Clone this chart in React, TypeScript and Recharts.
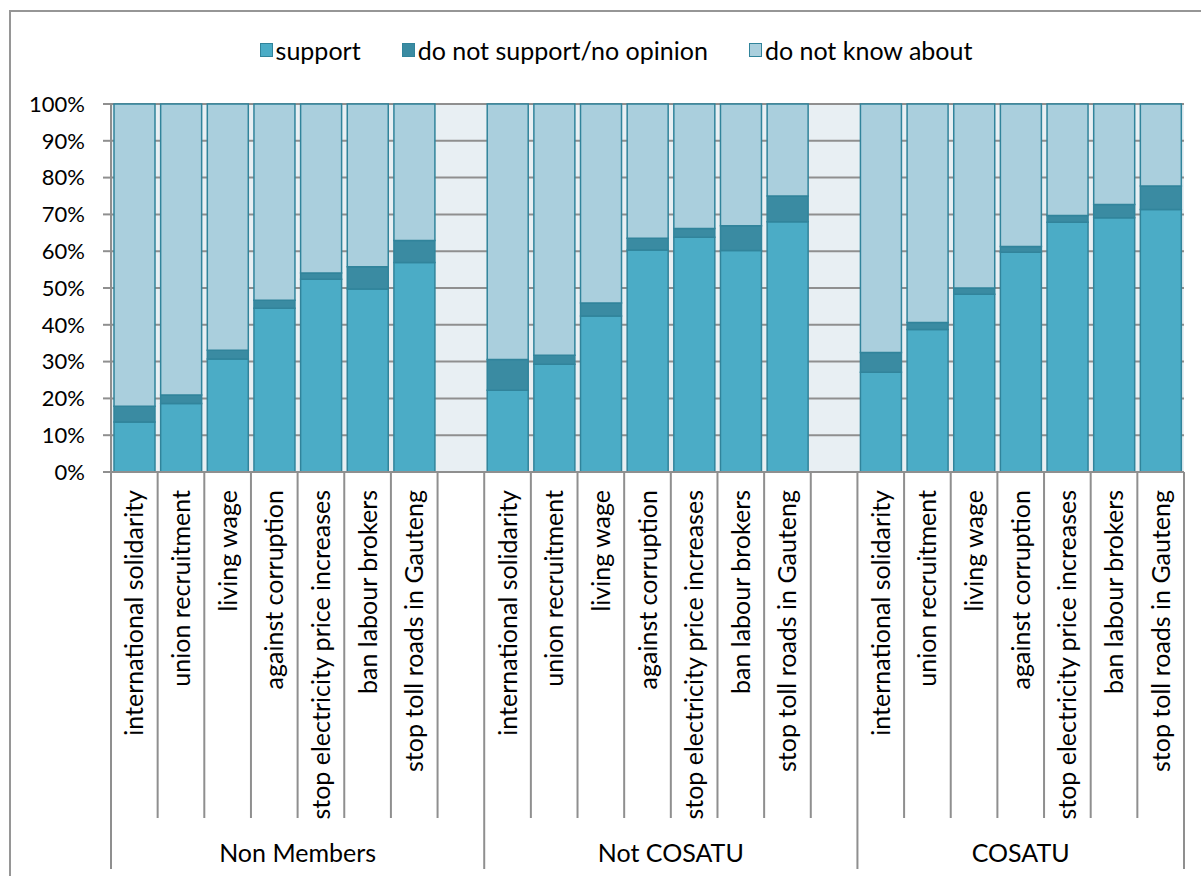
import { BarChart, Bar, XAxis, YAxis, CartesianGrid, Legend } from "recharts";

// survey topics, repeated for each respondent group
const topics = [
    "international solidarity",
    "union recruitment",
    "living wage",
    "against corruption",
    "stop electricity price increases",
    "ban labour brokers",
    "stop toll roads in Gauteng",
];

const groups = ["Non Members", "Not COSATU", "COSATU"];

// percentages per topic, same order as `topics`
const supportNonMembers = [13.6, 18.6, 30.7, 44.5, 52.4, 49.7, 56.9];
const supportNotCosatu = [22.2, 29.3, 42.4, 60.3, 63.8, 60.2, 68.0];
const supportCosatu = [27.1, 38.7, 48.3, 59.7, 67.9, 69.1, 71.3];

const noSupportNonMembers = [4.3, 2.3, 2.4, 2.2, 1.7, 6.1, 6.0];
const noSupportNotCosatu = [8.4, 2.4, 3.5, 3.2, 2.4, 6.7, 7.0];
const noSupportCosatu = [5.4, 1.9, 1.7, 1.6, 1.8, 3.6, 6.4];

const unawareNonMembers = [82.1, 79.1, 66.9, 53.3, 45.9, 44.2, 37.1];
const unawareNotCosatu = [69.4, 68.3, 54.1, 36.5, 33.8, 33.1, 25.0];
const unawareCosatu = [67.5, 59.4, 50.0, 38.7, 30.3, 27.3, 22.3];

const yTicks = [0, 10, 20, 30, 40, 50, 60, 70, 80, 90, 100];

const supportByGroup = [supportNonMembers, supportNotCosatu, supportCosatu];
const noSupportByGroup = [noSupportNonMembers, noSupportNotCosatu, noSupportCosatu];
const unawareByGroup = [unawareNonMembers, unawareNotCosatu, unawareCosatu];

type Row = {
    name: string;
    group: number;
    support?: number;
    noSupport?: number;
    unaware?: number;
};

// one row per topic, plus an empty slot between groups
const rows: Row[] = [];
groups.forEach((_, gi) => {
    topics.forEach((t, ti) => {
        rows.push({
            name: t,
            group: gi,
            support: supportByGroup[gi][ti],
            noSupport: noSupportByGroup[gi][ti],
            unaware: unawareByGroup[gi][ti],
        });
    });
    if (gi < groups.length - 1) rows.push({ name: "", group: gi });
});

const series = [
    { key: "support", label: "support", fill: "#4bacc6" },
    { key: "noSupport", label: "do not support/no opinion", fill: "#3a8ba2" },
    { key: "unaware", label: "do not know about", fill: "#aacfdd" },
];

const FONT = "Lato, 'Liberation Sans', sans-serif";
const FONT_SIZE = 25;
const Y_FONT_SIZE = 22;
const GRID = "#8f8f8f";
const BAR_STROKE = "#31849b";

const W = 1210;
const H = 880;
const MARGIN = { top: 92, right: 37, bottom: 0, left: 0 };
const Y_AXIS_W = 100;
const X_AXIS_H = H - MARGIN.top - MARGIN.bottom - 368;
const PLOT_W = W - MARGIN.left - MARGIN.right - Y_AXIS_W;
const STEP = PLOT_W / rows.length;

const groupSize = (g: number) => rows.filter((r) => r.group === g).length;
const isGroupStart = (i: number) => i === 0 || rows[i].group !== rows[i - 1].group;

const CategoryTick = (props: any) => {
    const { x, y, index } = props;
    const row = rows[index];
    const left = x - STEP / 2;
    const shortEnd = y + 346;
    const longEnd = y + 397;
    const labelTop = y + 18;
    const last = index === rows.length - 1;
    return (
        <g>
            <line
                x1={left}
                x2={left}
                y1={y}
                y2={isGroupStart(index) ? longEnd : shortEnd}
                stroke={GRID}
                strokeWidth={2}
            />
            {last && (
                <line x1={x + STEP / 2} x2={x + STEP / 2} y1={y} y2={longEnd} stroke={GRID} strokeWidth={2} />
            )}
            {row.name && (
                <text
                    x={x}
                    y={labelTop}
                    dy="0.36em"
                    textAnchor="end"
                    transform={`rotate(-90 ${x} ${labelTop})`}
                    fontFamily={FONT}
                    fontSize={FONT_SIZE}
                    fill="#000"
                >
                    {row.name}
                </text>
            )}
            {isGroupStart(index) && (
                <text
                    x={left + (groupSize(row.group) * STEP) / 2}
                    y={y + 381}
                    dy="0.36em"
                    textAnchor="middle"
                    fontFamily={FONT}
                    fontSize={FONT_SIZE}
                    fill="#000"
                >
                    {groups[row.group]}
                </text>
            )}
        </g>
    );
};

const LegendBox = () => (
    <div
        style={{
            display: "flex",
            justifyContent: "center",
            gap: 41,
            fontFamily: FONT,
            fontSize: FONT_SIZE,
            lineHeight: "26px",
            color: "#000",
        }}
    >
        {series.map((s) => (
            <div key={s.key} style={{ display: "flex", alignItems: "center", gap: 3 }}>
                <span
                    style={{
                        display: "inline-block",
                        width: 11,
                        height: 12,
                        background: s.fill,
                        border: `1px solid ${BAR_STROKE}`,
                    }}
                />
                <span>{s.label}</span>
            </div>
        ))}
    </div>
);

export default function App() {
    return (
        <div style={{ position: "fixed", left: 0, top: 0, width: 1201, height: 876, overflow: "hidden", background: "#fff" }}>
            <div
                style={{
                    position: "absolute",
                    left: 9,
                    top: 10,
                    width: W,
                    height: H,
                    border: "2px solid #969696",
                    background: "#fff",
                }}
            >
                <BarChart width={W} height={H} data={rows} margin={MARGIN} barCategoryGap={3}>
                    <CartesianGrid vertical={false} fill="#e8eff3" stroke={GRID} strokeWidth={2} />
                    <XAxis
                        dataKey="name"
                        interval={0}
                        height={X_AXIS_H}
                        tickLine={false}
                        tickSize={0}
                        tickMargin={0}
                        axisLine={{ stroke: GRID, strokeWidth: 2 }}
                        tick={<CategoryTick />}
                    />
                    <YAxis
                        width={Y_AXIS_W}
                        domain={[0, 100]}
                        ticks={yTicks}
                        interval={0}
                        tickFormatter={(v) => `${v}%`}
                        tickSize={8}
                        tickMargin={18}
                        axisLine={{ stroke: GRID, strokeWidth: 2 }}
                        tickLine={{ stroke: GRID, strokeWidth: 2 }}
                        tick={{ fill: "#000", fontSize: Y_FONT_SIZE, fontFamily: FONT }}
                    />
                    <Legend
                        layout="horizontal"
                        verticalAlign="middle"
                        align="center"
                        wrapperStyle={{ top: 25, left: 0, width: W }}
                        content={<LegendBox />}
                    />
                    {series.map((s) => (
                        <Bar
                            key={s.key}
                            dataKey={s.key}
                            name={s.label}
                            stackId="a"
                            fill={s.fill}
                            stroke={BAR_STROKE}
                            strokeWidth={1.5}
                            isAnimationActive={false}
                        />
                    ))}
                </BarChart>
            </div>
        </div>
    );
}
